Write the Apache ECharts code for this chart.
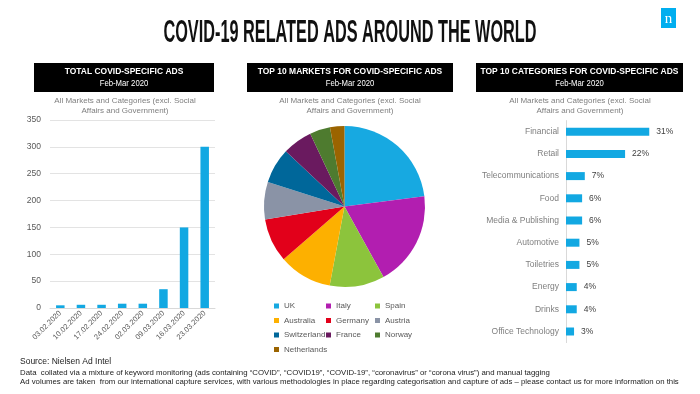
<!DOCTYPE html>
<html><head><meta charset="utf-8">
<script src="https://cdn.jsdelivr.net/npm/echarts@6/dist/echarts.min.js"></script>
<style>html,body{margin:0;padding:0;background:#fff}#c{width:700px;height:394px}</style>
</head><body><div id="c"></div>
<script>
// ---- data ----
const weekLabels = ['03.02.2020','10.02.2020','17.02.2020','24.02.2020','02.03.2020','09.03.2020','16.03.2020','23.03.2020'];
const weeklyAds = [5, 6, 6, 8, 8, 35, 150, 300];

const markets = ['UK','Italy','Spain','Australia','Germany','Austria','Switzerland','France','Norway','Netherlands'];
const marketShares = [23, 19, 11, 10.7, 8.8, 7.5, 7.1, 6, 4.1, 2.9];

const categories = ['Financial','Retail','Telecommunications','Food','Media & Publishing','Automotive','Toiletries','Energy','Drinks','Office Technology'];
const categoryShares = [31, 22, 7, 6, 6, 5, 5, 4, 4, 3];

// ---- styles ----
const marketColors = ['#17a9e1','#b21eb0','#8cc43c','#fdb000','#e2001a','#8a93a6','#00679a','#6a1a5f','#4e7b2f','#9b6400'];
const blue = '#12a8e2';
const FONT = 'Liberation Sans, Arial, sans-serif';

const chart = echarts.init(document.getElementById('c'), null, {renderer:'canvas'});

function headerBox(x, w, t1) {
  return [
    {type:'rect', shape:{x:x, y:63, width:w, height:29}, style:{fill:'#000'}},
    {type:'text', x:x + w/2, y:71, scaleX:0.89, style:{text:t1, fill:'#fff', font:'bold 9.5px ' + FONT, align:'center', verticalAlign:'middle'}},
    {type:'text', x:x + w/2, y:83.5, scaleX:0.86, style:{text:'Feb-Mar 2020', fill:'#fff', font:'9px ' + FONT, align:'center', verticalAlign:'middle'}}
  ];
}
function subNote(cx) {
  return [
    {type:'text', x:cx, y:101, style:{text:'All Markets and Categories (excl. Social', fill:'#7f7f7f', font:'8px ' + FONT, align:'center', verticalAlign:'middle'}},
    {type:'text', x:cx, y:111, style:{text:'Affairs and Government)', fill:'#7f7f7f', font:'8px ' + FONT, align:'center', verticalAlign:'middle'}}
  ];
}

const legendCols = [
  {left:269, data:[markets[0], markets[3], markets[6], markets[9]]},
  {left:321, data:[markets[1], markets[4], markets[7]]},
  {left:370, data:[markets[2], markets[5], markets[8]]}
];

const option = {
  animation:false,
  textStyle:{fontFamily:FONT},
  graphic:[].concat(
    [{type:'text', x:350, y:33, scaleX:0.525, style:{text:'COVID-19 RELATED ADS AROUND THE WORLD', fill:'#111', font:'bold 31px "Liberation Sans Narrow", sans-serif', align:'center', verticalAlign:'middle'}},
     {type:'rect', shape:{x:661, y:8, width:15, height:20}, style:{fill:'#00aeef'}},
     {type:'text', x:668.5, y:19, style:{text:'n', fill:'#fff', font:'15px "Liberation Serif", serif', align:'center', verticalAlign:'middle'}}],
    headerBox(34, 180, 'TOTAL COVID-SPECIFIC ADS'),
    headerBox(247, 206, 'TOP 10 MARKETS FOR COVID-SPECIFIC ADS'),
    headerBox(476, 207, 'TOP 10 CATEGORIES FOR COVID-SPECIFIC ADS'),
    subNote(125), subNote(350), subNote(580),
    [{type:'text', x:20, y:361.5, style:{text:'Source: Nielsen Ad Intel', fill:'#222', font:'8.5px ' + FONT, align:'left', verticalAlign:'middle'}},
     {type:'text', x:20, y:372.5, style:{text:'Data  collated via a mixture of keyword monitoring (ads containing \u201cCOVID\u201d, \u201cCOVID19\u201d, \u201cCOVID-19\u201d, \u201ccoronavirus\u201d or \u201ccorona virus\u201d) and manual tagging', fill:'#222', font:'7.8px "Liberation Sans Narrow", sans-serif', align:'left', verticalAlign:'middle'}},
     {type:'text', x:20, y:381.5, style:{text:'Ad volumes are taken  from our international capture services, with various methodologies in place regarding categorisation and capture of ads \u2013 please contact us for more information on this', fill:'#222', font:'7.8px "Liberation Sans Narrow", sans-serif', align:'left', verticalAlign:'middle'}}]
  ),
  legend: legendCols.map(c => ({
    orient:'vertical', left:c.left, top:296, data:c.data, selectedMode:false,
    itemWidth:5, itemHeight:5, itemGap:4.5, icon:'rect',
    textStyle:{fontSize:8, color:'#595959', lineHeight:10}
  })),
  grid:[
    {left:50, top:120, width:165, height:188},
    {left:566, top:120.6, width:94, height:222}
  ],
  xAxis:[
    {gridIndex:0, type:'category', data:weekLabels,
     axisLine:{lineStyle:{color:'#d9d9d9'}}, axisTick:{show:false},
     axisLabel:{rotate:45, fontSize:7.5, color:'#595959', margin:4, interval:0}},
    {gridIndex:1, type:'value', min:0, max:35, show:false}
  ],
  yAxis:[
    {gridIndex:0, type:'value', min:0, max:350, interval:50,
     axisLine:{show:false}, axisTick:{show:false},
     axisLabel:{fontSize:8.5, color:'#595959', margin:9},
     splitLine:{lineStyle:{color:'#e3e3e3'}}},
    {gridIndex:1, type:'category', data:categories, inverse:true,
     axisLine:{lineStyle:{color:'#d9d9d9'}}, axisTick:{show:false},
     axisLabel:{fontSize:8.5, color:'#7f7f7f', margin:7}}
  ],
  series:[
    {type:'bar', xAxisIndex:0, yAxisIndex:0, data:weeklyAds, barWidth:8.5, itemStyle:{color:blue}},
    {type:'bar', xAxisIndex:1, yAxisIndex:1, data:categoryShares, barWidth:8, itemStyle:{color:blue},
     label:{show:true, position:'right', distance:7, formatter:'{c}%', fontSize:8.5, color:'#404040'}},
    {type:'pie', name:'Markets', center:[344.5, 206.5], radius:80.5, startAngle:90, clockwise:true,
     label:{show:false}, labelLine:{show:false}, silent:true,
     data:markets.map((m,i) => ({name:m, value:marketShares[i], itemStyle:{color:marketColors[i]}}))}
  ]
};
chart.setOption(option);
</script></body></html>
